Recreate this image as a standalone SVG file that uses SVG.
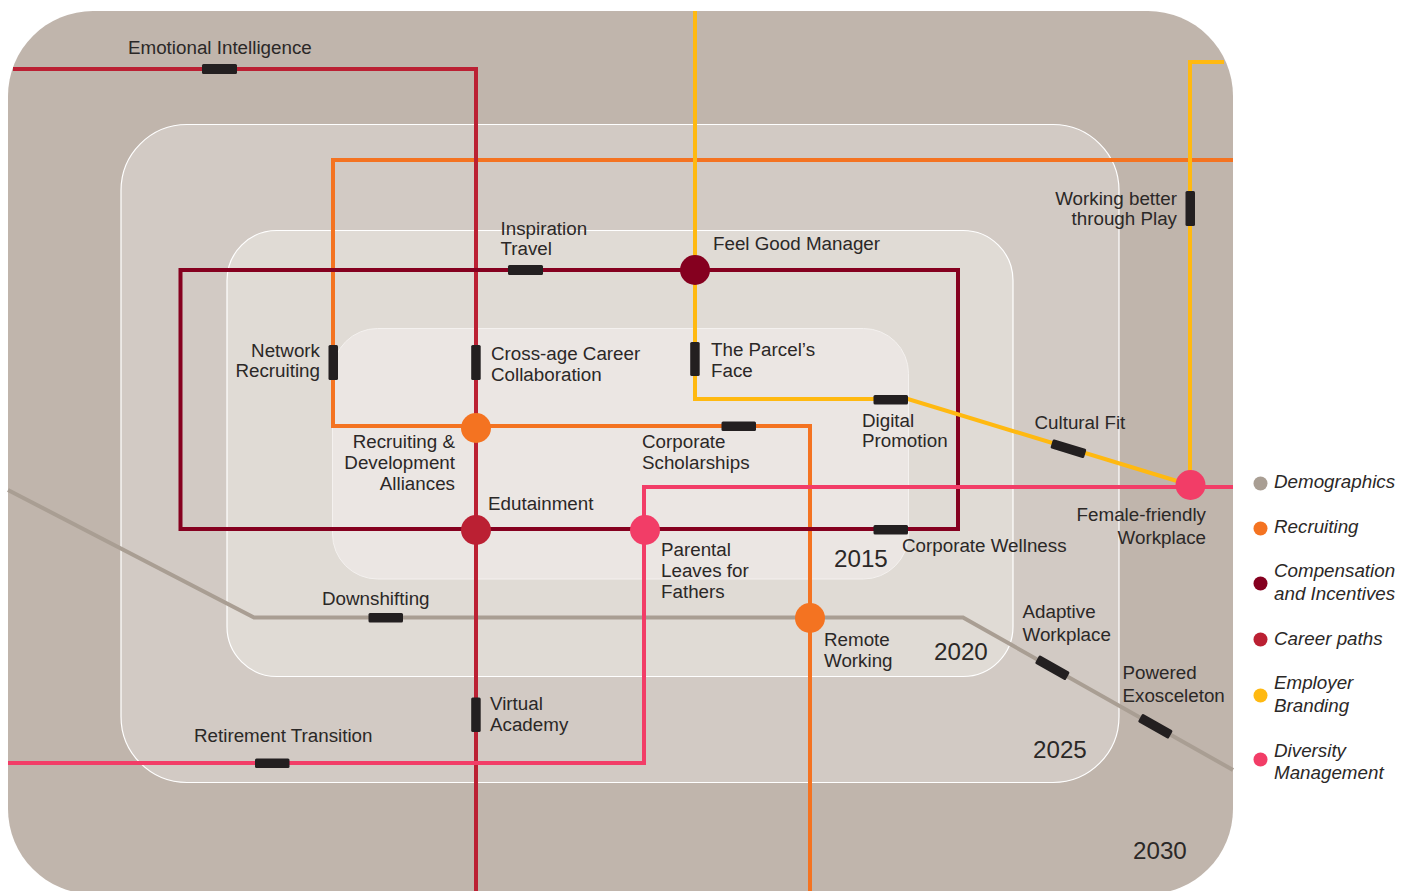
<svg xmlns="http://www.w3.org/2000/svg" width="1409" height="891" viewBox="0 0 1409 891">
<style>
text{font-family:"Liberation Sans",Arial,sans-serif;font-size:18.8px;fill:#2b2827}
.yr{font-size:24.2px}
.lg{font-style:italic}
.e{text-anchor:end}
.zone{stroke:#fff;stroke-width:1.2}
.line{fill:none;stroke-width:4;stroke-linejoin:miter}
.tick{fill:#231f20}
.demo{stroke:#a99e93}.rec{stroke:#f47321}.comp{stroke:#85001f}.car{stroke:#bb2033}.emp{stroke:#ffb911}.div{stroke:#f23d67}
</style>
<g id="zones">
<rect x="8" y="11" width="1225" height="883" rx="85" fill="#c0b5ac"/>
<rect class="zone" x="121" y="124.500" width="998" height="658" rx="66" fill="#d2cac4"/>
<rect class="zone" x="227" y="230.500" width="786" height="446" rx="50" fill="#e0dbd5"/>
<rect x="332.500" y="328.500" width="576" height="250.500" rx="45" fill="#ebe6e3" stroke="#f4f1ef" stroke-width="1"/>
</g>
<g id="connectors">
<path class="line demo" d="M8 490L254 617.500H963L1233 770"/>
<path class="line rec" d="M1233 160H333V426H810V891"/>
<path class="line car" d="M13 69H476V891"/>
<path class="line comp" d="M180.500 270H958V529H180.500Z"/>
<path class="line emp" d="M695 11V399H908L1190 485V62H1224"/>
<path class="line div" d="M8 763H644V487H1233"/>
</g>
<g id="t-emotional"><rect class="tick" x="202" y="64" width="35" height="10" rx="1.500"/><text x="128" y="54">Emotional Intelligence</text></g>
<g id="t-inspiration"><rect class="tick" x="508" y="265" width="35" height="10" rx="1.500"/><text x="500.500" y="235">Inspiration</text><text x="500.500" y="255">Travel</text></g>
<g id="n-feelgood"><circle cx="695" cy="270" r="15" fill="#85001f"/><text x="713" y="250">Feel Good Manager</text></g>
<g id="t-working"><rect class="tick" x="1185.500" y="191" width="9.500" height="35" rx="1.500"/><text class="e" x="1177" y="205">Working better</text><text class="e" x="1177" y="225">through Play</text></g>
<g id="t-network"><rect class="tick" x="328.500" y="345" width="9.500" height="35" rx="1.500"/><text class="e" x="320" y="357">Network</text><text class="e" x="320" y="377">Recruiting</text></g>
<g id="t-crossage"><rect class="tick" x="471.200" y="345" width="9.500" height="35" rx="1.500"/><text x="491" y="360">Cross-age Career</text><text x="491" y="381">Collaboration</text></g>
<g id="t-parcel"><rect class="tick" x="690.200" y="342" width="9.500" height="34" rx="1.500"/><text x="711" y="356">The Parcel’s</text><text x="711" y="377">Face</text></g>
<g id="t-digital"><rect class="tick" x="873.500" y="395" width="34.500" height="9.500" rx="1.500"/><text x="862" y="427">Digital</text><text x="862" y="447">Promotion</text></g>
<g id="t-cultural"><rect class="tick" x="1051" y="444" width="35" height="9.500" rx="1.500" transform="rotate(17 1068.500 448.500)"/><text x="1034.500" y="429">Cultural Fit</text></g>
<g id="n-female"><circle cx="1190.500" cy="485" r="15" fill="#f23d67"/><text class="e" x="1206" y="521">Female-friendly</text><text class="e" x="1206" y="544">Workplace</text></g>
<g id="n-recruiting"><circle cx="476" cy="428" r="15" fill="#f47321"/><text class="e" x="455" y="448">Recruiting &amp;</text><text class="e" x="455" y="469">Development</text><text class="e" x="455" y="490">Alliances</text></g>
<g id="t-scholar"><rect class="tick" x="721.500" y="421.500" width="34.500" height="9.500" rx="1.500"/><text x="642" y="448">Corporate</text><text x="642" y="469">Scholarships</text></g>
<g id="n-edutainment"><circle cx="476" cy="530" r="15" fill="#bb2033"/><text x="488" y="510">Edutainment</text></g>
<g id="n-parental"><circle cx="645" cy="530" r="15" fill="#f23d67"/><text x="661" y="556">Parental</text><text x="661" y="577">Leaves for</text><text x="661" y="598">Fathers</text></g>
<g id="t-wellness"><rect class="tick" x="873.500" y="525" width="34.500" height="9.500" rx="1.500"/><text x="902" y="552">Corporate Wellness</text></g>
<g id="t-downshifting"><rect class="tick" x="368.500" y="613" width="34.500" height="9.500" rx="1.500"/><text x="322" y="605">Downshifting</text></g>
<g id="n-remote"><circle cx="810" cy="618" r="15" fill="#f47321"/><text x="824" y="646">Remote</text><text x="824" y="667">Working</text></g>
<g id="t-adaptive"><rect class="tick" x="1035" y="663" width="35" height="9.500" rx="1.500" transform="rotate(29.500 1052.500 667.500)"/><text x="1022.500" y="618">Adaptive</text><text x="1022.500" y="641">Workplace</text></g>
<g id="t-powered"><rect class="tick" x="1138" y="721.500" width="35" height="9.500" rx="1.500" transform="rotate(29.500 1155.500 726)"/><text x="1122.500" y="679">Powered</text><text x="1122.500" y="702">Exosceleton</text></g>
<g id="t-virtual"><rect class="tick" x="471.200" y="697.500" width="9.500" height="34.500" rx="1.500"/><text x="490" y="710">Virtual</text><text x="490" y="731">Academy</text></g>
<g id="t-retirement"><rect class="tick" x="255" y="758.500" width="34.500" height="9.500" rx="1.500"/><text x="194" y="742">Retirement Transition</text></g>
<g id="years"><text class="yr" x="834" y="567">2015</text><text class="yr" x="934" y="660">2020</text><text class="yr" x="1033" y="758">2025</text><text class="yr" x="1133" y="859">2030</text></g>
<g id="legend">
<circle cx="1260.500" cy="483.500" r="7" fill="#a99e93"/><text class="lg" x="1274" y="488">Demographics</text>
<circle cx="1260.500" cy="528.500" r="7" fill="#f47321"/><text class="lg" x="1274" y="533">Recruiting</text>
<circle cx="1260.500" cy="583.500" r="7" fill="#85001f"/><text class="lg" x="1274" y="577">Compensation</text><text class="lg" x="1274" y="600">and Incentives</text>
<circle cx="1260.500" cy="639.500" r="7" fill="#bb2033"/><text class="lg" x="1274" y="645">Career paths</text>
<circle cx="1260.500" cy="695.500" r="7" fill="#ffb911"/><text class="lg" x="1274" y="689">Employer</text><text class="lg" x="1274" y="712">Branding</text>
<circle cx="1260.500" cy="759.500" r="7" fill="#f23d67"/><text class="lg" x="1274" y="757">Diversity</text><text class="lg" x="1274" y="779">Management</text>
</g>
</svg>
